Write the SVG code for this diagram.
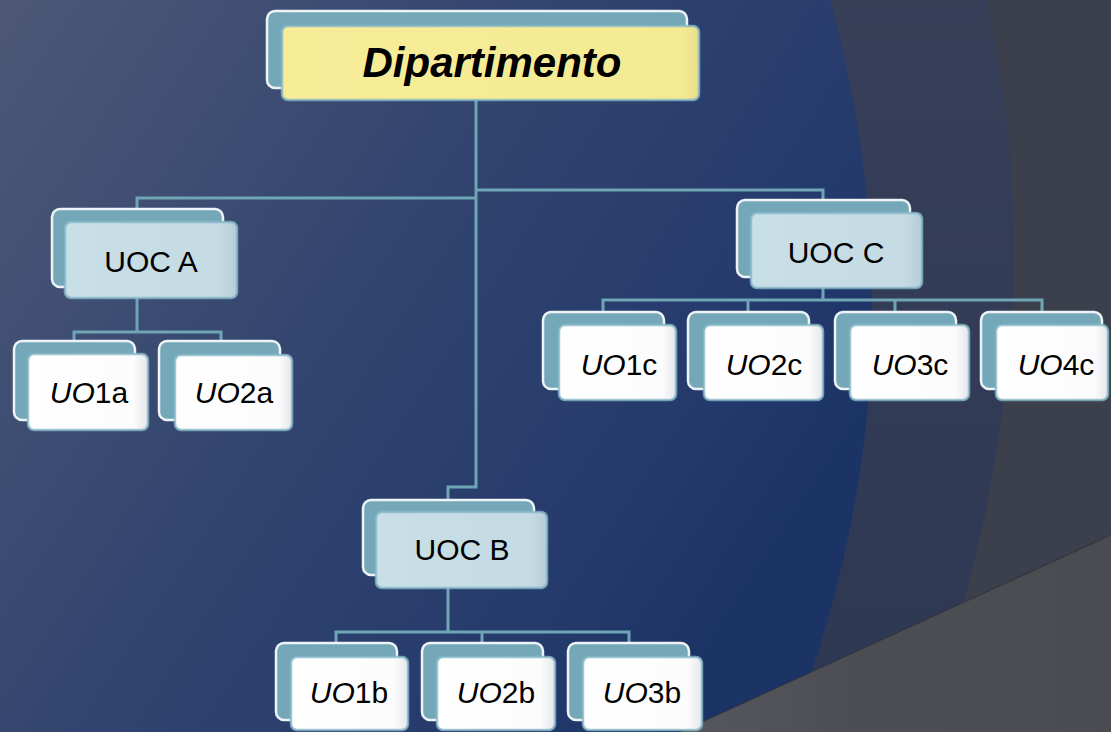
<svg xmlns="http://www.w3.org/2000/svg" width="1111" height="732" viewBox="0 0 1111 732">
<defs>
<linearGradient id="bgBlue" x1="0" y1="0" x2="1" y2="0.55">
<stop offset="0" stop-color="#4d5876"/>
<stop offset="0.5" stop-color="#31446f"/>
<stop offset="0.85" stop-color="#243a6c"/>
<stop offset="1" stop-color="#1c3366"/>
</linearGradient>
<linearGradient id="bgBand" x1="0" y1="0" x2="0" y2="1">
<stop offset="0" stop-color="#373f59"/>
<stop offset="1" stop-color="#2e3853"/>
</linearGradient>
<linearGradient id="bgTri" x1="0" y1="0" x2="1" y2="0">
<stop offset="0" stop-color="#56585f"/>
<stop offset="0.4" stop-color="#4d4e54"/>
<stop offset="1" stop-color="#4b4c51"/>
</linearGradient>
<linearGradient id="gYellow" x1="0" y1="0" x2="1" y2="0">
<stop offset="0" stop-color="#f7ec97"/>
<stop offset="0.96" stop-color="#f5ea94"/>
<stop offset="1" stop-color="#e8dd8b"/>
</linearGradient>
<linearGradient id="gBlue" x1="0" y1="0" x2="1" y2="0">
<stop offset="0" stop-color="#c8dfe7"/>
<stop offset="0.9" stop-color="#c4dbe4"/>
<stop offset="1" stop-color="#b6ccd6"/>
</linearGradient>
<linearGradient id="gWhite" x1="0" y1="0" x2="1" y2="0">
<stop offset="0" stop-color="#ffffff"/>
<stop offset="0.88" stop-color="#fcfcfd"/>
<stop offset="1" stop-color="#e4e6ec"/>
</linearGradient>
<style>
.back{fill:#74a8b9;stroke:#eef3f7;stroke-width:2.5}
.front{stroke:#86b8c8;stroke-width:2.5;stroke-opacity:0.8}
.yellow{fill:url(#gYellow)}
.lblue{fill:url(#gBlue)}
.white{fill:url(#gWhite)}
.conn{stroke:#6fa5b5;stroke-width:3;fill:none}
text{font-family:"Liberation Sans",Arial,sans-serif;font-size:30px;fill:#000;text-anchor:middle}
.title{font-size:42px;font-weight:bold;font-style:italic}
.it{font-style:italic}
</style>
</defs>
<!-- background -->
<rect x="0" y="0" width="1111" height="732" fill="#3c404c"/>
<path d="M0 0 H987 C1030 200 1030 420 925 732 H0 Z" fill="url(#bgBand)"/>
<path d="M0 0 H830 C885 200 900 450 790 732 H0 Z" fill="url(#bgBlue)"/>
<polygon points="680,732 1111,535 1111,732" fill="url(#bgTri)"/>
<line x1="680" y1="732" x2="1111" y2="535" stroke="#2a2d36" stroke-width="1.5" stroke-opacity="0.5"/>

<g id="connectors">
<path class="conn" d="M476 100 V487 H448 V500"/>
<path class="conn" d="M476 198 H137 V209"/>
<path class="conn" d="M476 190 H823 V200"/>
<path class="conn" d="M137 298 V332"/>
<path class="conn" d="M74 341 V332 H221 V341"/>
<path class="conn" d="M823 288 V300"/>
<path class="conn" d="M603 312 V300 H1042 V312"/>
<path class="conn" d="M748 300 V312"/>
<path class="conn" d="M895 300 V312"/>
<path class="conn" d="M448 588 V632"/>
<path class="conn" d="M336 643 V632 H629 V643"/>
<path class="conn" d="M482 632 V643"/>
</g>

<g id="node-dipartimento">
<rect class="back" x="267" y="11" width="420" height="77" rx="8"/>
<rect class="front yellow" x="282" y="26" width="417" height="74" rx="6"/>
<text class="title" x="492" y="77">Dipartimento</text>
</g>

<g id="node-uoc-a">
<rect class="back" x="52" y="209" width="171" height="78" rx="8"/>
<rect class="front lblue" x="65" y="222" width="172" height="76" rx="6"/>
<text x="151" y="272">UOC A</text>
</g>

<g id="node-uoc-c">
<rect class="back" x="737" y="200" width="173" height="77" rx="8"/>
<rect class="front lblue" x="751" y="213" width="171" height="75" rx="6"/>
<text x="836" y="263">UOC C</text>
</g>

<g id="node-uoc-b">
<rect class="back" x="363" y="500" width="171" height="75" rx="8"/>
<rect class="front lblue" x="376" y="512" width="171" height="76" rx="6"/>
<text x="462" y="560">UOC B</text>
</g>

<g id="node-uo1a">
<rect class="back" x="14" y="341" width="121" height="79" rx="8"/>
<rect class="front white" x="28" y="354" width="120" height="76" rx="6"/>
<text x="89" y="403"><tspan class="it">UO</tspan>1a</text>
</g>
<g id="node-uo2a">
<rect class="back" x="159" y="341" width="121" height="79" rx="8"/>
<rect class="front white" x="175" y="355" width="117" height="75" rx="6"/>
<text x="234" y="403"><tspan class="it">UO</tspan>2a</text>
</g>

<g id="node-uo1c">
<rect class="back" x="543" y="312" width="121" height="77" rx="8"/>
<rect class="front white" x="559" y="325" width="117" height="75" rx="6"/>
<text x="619" y="375"><tspan class="it">UO</tspan>1c</text>
</g>
<g id="node-uo2c">
<rect class="back" x="688" y="312" width="121" height="77" rx="8"/>
<rect class="front white" x="704" y="325" width="119" height="75" rx="6"/>
<text x="764" y="375"><tspan class="it">UO</tspan>2c</text>
</g>
<g id="node-uo3c">
<rect class="back" x="835" y="312" width="121" height="77" rx="8"/>
<rect class="front white" x="850" y="325" width="119" height="75" rx="6"/>
<text x="910" y="375"><tspan class="it">UO</tspan>3c</text>
</g>
<g id="node-uo4c">
<rect class="back" x="981" y="312" width="121" height="77" rx="8"/>
<rect class="front white" x="996" y="325" width="112" height="75" rx="6"/>
<text x="1056" y="375"><tspan class="it">UO</tspan>4c</text>
</g>

<g id="node-uo1b">
<rect class="back" x="276" y="643" width="121" height="77" rx="8"/>
<rect class="front white" x="291" y="657" width="117" height="73" rx="6"/>
<text x="349" y="703"><tspan class="it">UO</tspan>1b</text>
</g>
<g id="node-uo2b">
<rect class="back" x="422" y="643" width="121" height="77" rx="8"/>
<rect class="front white" x="437" y="657" width="118" height="73" rx="6"/>
<text x="496" y="703"><tspan class="it">UO</tspan>2b</text>
</g>
<g id="node-uo3b">
<rect class="back" x="568" y="643" width="121" height="77" rx="8"/>
<rect class="front white" x="583" y="657" width="119" height="73" rx="6"/>
<text x="642" y="703"><tspan class="it">UO</tspan>3b</text>
</g>
</svg>
